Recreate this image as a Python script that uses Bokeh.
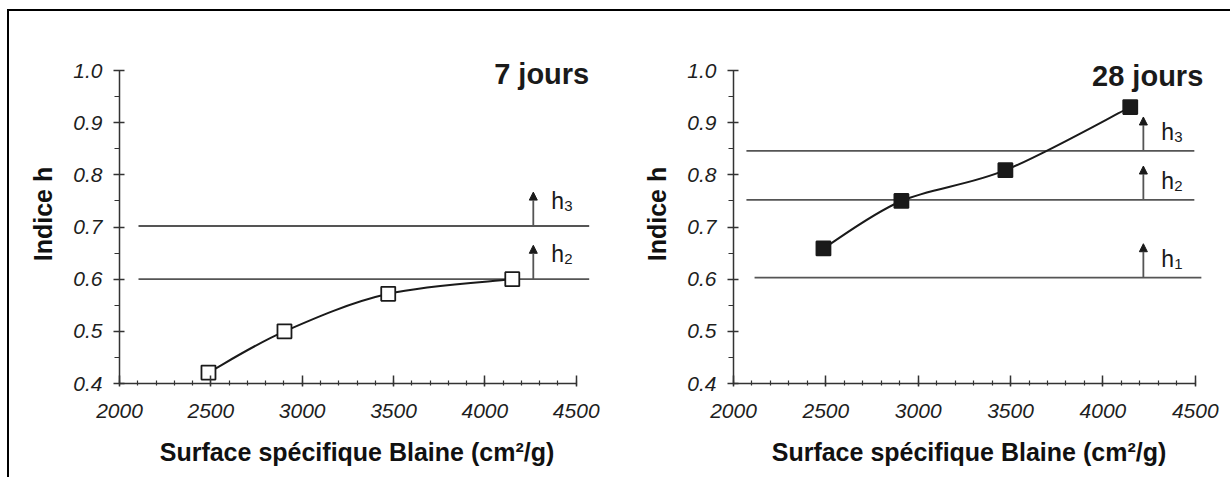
from bokeh.plotting import figure
from bokeh.layouts import row
from bokeh.models import (Range1d, FixedTicker, PrintfTickFormatter, Arrow, NormalHead,
                          ColumnDataSource)
from bokeh.embed import file_html
from bokeh.resources import INLINE
from bokeh.core.properties import value

# ---------------- data ----------------
blaine_7 = [2487, 2903, 3471, 4150]
h_7 = [0.421, 0.500, 0.572, 0.600]
blaine_28 = [2487, 2909, 3472, 4148]
h_28 = [0.659, 0.750, 0.809, 0.930]

# threshold lines (h classes)
thr_7_levels = [0.600, 0.702]
thr_7_names = ["2", "3"]
thr_7_start = [2104, 2104]
thr_7_end = [4571, 4571]
thr_28_levels = [0.603, 0.752, 0.846]
thr_28_names = ["1", "2", "3"]
thr_28_start = [2114, 2070, 2070]
thr_28_end = [4533, 4495, 4495]
arrow_x_7 = 4265
arrow_x_28 = 4219
arrow_len = 0.065

x_ticks = [2000, 2500, 3000, 3500, 4000, 4500]
x_minor = list(range(2000, 4501, 100))
y_ticks = [0.4, 0.5, 0.6, 0.7, 0.8, 0.9, 1.0]
y_minor = [0.40, 0.45, 0.50, 0.55, 0.60, 0.65, 0.70, 0.75, 0.80, 0.85, 0.90, 0.95, 1.00]

titles = ["7 jours", "28 jours"]
x_label = "Surface spécifique Blaine (cm²/g)"
y_label = "Indice h"

FONT = "Liberation Sans"
INK = "#1a1a1a"
GREY = "#555555"


def smooth_bezier(xs, ys):
    """Catmull-Rom -> cubic Bezier control points for a smooth curve through the data."""
    n = len(xs)
    x0, y0, x1, y1, cx0, cy0, cx1, cy1 = [], [], [], [], [], [], [], []
    for i in range(n - 1):
        xa, ya = (xs[i - 1], ys[i - 1]) if i > 0 else (xs[i], ys[i])
        xb, yb = xs[i], ys[i]
        xc, yc = xs[i + 1], ys[i + 1]
        xd, yd = (xs[i + 2], ys[i + 2]) if i + 2 < n else (xc, yc)
        x0.append(xb); y0.append(yb); x1.append(xc); y1.append(yc)
        cx0.append(xb + (xc - xa) / 6.0); cy0.append(yb + (yc - ya) / 6.0)
        cx1.append(xc - (xd - xb) / 6.0); cy1.append(yc - (yd - yb) / 6.0)
    return dict(x0=x0, y0=y0, x1=x1, y1=y1, cx0=cx0, cy0=cy0, cx1=cx1, cy1=cy1)


def panel(xs, ys, filled, levels, names, starts, ends, arrow_x, title,
          x_end, width, height, left, right, top, bottom, title_dx, title_dy, lab_dy):
    p = figure(width=width, height=height, output_backend="svg", toolbar_location=None,
               x_range=Range1d(2000, x_end), y_range=Range1d(0.4, 1.05),
               min_border_left=left, min_border_right=right,
               min_border_top=top, min_border_bottom=bottom)
    p.outline_line_color = None
    p.grid.visible = False
    p.background_fill_color = "white"
    p.border_fill_color = "white"

    # axes
    p.xaxis.bounds = (2000, 4500)
    p.yaxis.bounds = (0.4, 1.0)
    p.xaxis.ticker = FixedTicker(ticks=x_ticks, minor_ticks=x_minor)
    p.xaxis.formatter = PrintfTickFormatter(format="%d")
    p.yaxis.ticker = FixedTicker(ticks=y_ticks, minor_ticks=y_minor)
    p.yaxis.formatter = PrintfTickFormatter(format="%.1f")
    for ax in (p.xaxis, p.yaxis):
        ax.axis_line_color = "#333333"
        ax.axis_line_width = 1.5
        ax.major_tick_line_color = "#333333"
        ax.major_tick_line_width = 1.5
        ax.minor_tick_line_color = "#333333"
        ax.minor_tick_line_width = 1.2
        ax.major_label_text_font = FONT
        ax.major_label_text_font_style = "italic"
        ax.major_label_text_font_size = "21px"
        ax.major_label_text_color = "#1e1e1e"
        ax.axis_label_text_font = FONT
        ax.axis_label_text_font_style = "bold"
        ax.axis_label_text_font_size = "25px"
        ax.axis_label_text_color = "#111111"
    p.xaxis.major_tick_in = 8
    p.xaxis.major_tick_out = 3
    p.xaxis.minor_tick_in = 3
    p.xaxis.minor_tick_out = 2
    p.yaxis.major_tick_in = 5
    p.yaxis.major_tick_out = 6
    p.yaxis.minor_tick_in = 0
    p.yaxis.minor_tick_out = 5
    p.xaxis.major_label_standoff = 17
    p.yaxis.major_label_standoff = 11
    p.xaxis.axis_label = x_label
    p.yaxis.axis_label = y_label
    p.xaxis.axis_label_standoff = 17
    p.yaxis.axis_label_standoff = 13

    # threshold lines and arrows
    thr = ColumnDataSource(dict(x0=starts, x1=ends, y=levels,
                                ax=[arrow_x] * len(levels),
                                ay1=[v + arrow_len for v in levels],
                                h=["h"] * len(levels), sub=names))
    p.segment(x0="x0", y0="y", x1="x1", y1="y", source=thr,
              line_color=GREY, line_width=1.8)
    p.add_layout(Arrow(end=NormalHead(size=8, fill_color=INK, fill_alpha=1.0,
                                      line_color=INK, line_width=1),
                       x_start="ax", y_start="y", x_end="ax", y_end="ay1",
                       line_color=GREY, line_width=1.8, source=thr))
    p.text(x="ax", y="y", text="h", source=thr, x_offset=18, y_offset=lab_dy,
           text_font=value(FONT), text_font_size="23px", text_color=INK,
           text_align="left", text_baseline="alphabetic")
    p.text(x="ax", y="y", text="sub", source=thr, x_offset=31, y_offset=lab_dy + 5,
           text_font=value(FONT), text_font_size="15px", text_color=INK,
           text_align="left", text_baseline="alphabetic")

    # smooth curve through the points
    bz = ColumnDataSource(smooth_bezier(xs, ys))
    p.bezier(x0="x0", y0="y0", x1="x1", y1="y1", cx0="cx0", cy0="cy0",
             cx1="cx1", cy1="cy1", source=bz, line_color=INK, line_width=2)
    pts = ColumnDataSource(dict(x=xs, y=ys))
    p.scatter(x="x", y="y", source=pts, marker="square", size=14,
              fill_color=INK if filled else "white", line_color=INK, line_width=1.8)

    # panel title
    p.text(x=[4500], y=[1.0], text=[title], x_offset=title_dx, y_offset=title_dy,
           text_font=value(FONT), text_font_style="bold", text_font_size="29px",
           text_color=INK, text_align="right", text_baseline="alphabetic")
    return p


p1 = panel(blaine_7, h_7, False, thr_7_levels, thr_7_names, thr_7_start, thr_7_end,
           arrow_x_7, titles[0], 4600, 605, 466, 110, 20, 33, 94, 13, 3, -25)
p2 = panel(blaine_28, h_28, True, thr_28_levels, thr_28_names, thr_28_start, thr_28_end,
           arrow_x_28, titles[1], 4550, 616, 466, 119, 26, 30, 91, 8, 5, -19)

layout = row(p1, p2, margin=(9, 0, 0, 7),
             styles={"border-top": "2px solid black", "border-left": "2px solid black"})

open("out.html", "w").write(file_html(layout, INLINE))
